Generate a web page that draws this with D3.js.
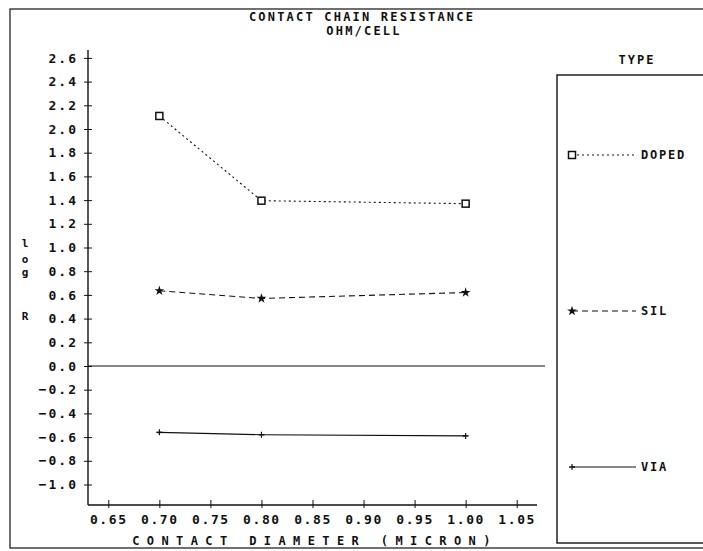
<!DOCTYPE html>
<html>
<head>
<meta charset="utf-8">
<script src="https://cdn.jsdelivr.net/npm/d3@7"></script>
<style>
  body { margin: 0; background: #fff; }
  svg text { font-family: "DejaVu Sans Mono", monospace; font-weight: bold; fill: #111; }
</style>
</head>
<body>
<svg id="chart" width="703" height="551"></svg>
<script>
// data
var diameters = [0.70, 0.80, 1.00];
var dopedVals = [2.11, 1.395, 1.37];
var silVals = [0.635, 0.57, 0.62];
var viaVals = [-0.56, -0.58, -0.59];
var seriesNames = ["DOPED", "SIL", "VIA"];
var xTicks = [0.65, 0.70, 0.75, 0.80, 0.85, 0.90, 0.95, 1.00, 1.05];
var yTicks = [2.6, 2.4, 2.2, 2.0, 1.8, 1.6, 1.4, 1.2, 1.0, 0.8, 0.6, 0.4, 0.2, 0.0,
  -0.2, -0.4, -0.6, -0.8, -1.0];

var svg = d3.select("#chart");
var ink = "#111";

var x = d3.scaleLinear().domain([0.65, 1.05]).range([108.3, 516.7]);
var y = d3.scaleLinear().domain([0, -1.0]).range([366, 484.5]);
var axisLeft = 88, axisBottom = 505;

// outer frame
svg.append("rect").attr("x", 10).attr("y", 9).attr("width", 700).attr("height", 539)
  .attr("fill", "none").attr("stroke", ink).attr("stroke-width", 1.2);

// titles
svg.append("text").attr("x", 362).attr("y", 21).attr("text-anchor", "middle")
  .style("font-size", "12px").style("letter-spacing", "2.2px").text("CONTACT CHAIN RESISTANCE");
svg.append("text").attr("x", 364).attr("y", 35).attr("text-anchor", "middle")
  .style("font-size", "12px").style("letter-spacing", "2.2px").text("OHM/CELL");

// y axis
var yAxis = d3.axisLeft(y).tickValues(yTicks).tickSize(0).tickPadding(10)
  .tickFormat(d3.format(".1f"));
var gy = svg.append("g").attr("transform", "translate(" + axisLeft + ",0)").call(yAxis);
gy.select(".domain").remove();
gy.selectAll("text").style("font-size", "13px").style("letter-spacing", "2px")
  .style("font-family", "'DejaVu Sans Mono', monospace").style("font-weight", "bold");
gy.selectAll(".tick").append("line").attr("x1", -4).attr("x2", 4).attr("stroke", ink);
svg.append("line").attr("x1", axisLeft).attr("x2", axisLeft).attr("y1", 50).attr("y2", axisBottom)
  .attr("stroke", ink).attr("stroke-width", 1.4);

// x axis
var xAxis = d3.axisBottom(x).tickValues(xTicks).tickSize(0).tickPadding(10)
  .tickFormat(d3.format(".2f"));
var gx = svg.append("g").attr("transform", "translate(0," + axisBottom + ")").call(xAxis);
gx.select(".domain").remove();
gx.selectAll("text").style("font-size", "13px").style("letter-spacing", "1.6px")
  .style("font-family", "'DejaVu Sans Mono', monospace").style("font-weight", "bold");
gx.selectAll(".tick").append("line").attr("y1", -5).attr("y2", 3).attr("stroke", ink);
svg.append("line").attr("x1", axisLeft).attr("x2", 537).attr("y1", axisBottom).attr("y2", axisBottom)
  .attr("stroke", ink).attr("stroke-width", 1.4);

// zero line
svg.append("line").attr("x1", axisLeft).attr("x2", 545).attr("y1", y(0)).attr("y2", y(0))
  .attr("stroke", ink).attr("stroke-width", 1.2);

// axis titles
svg.append("text").attr("x", 315).attr("y", 545).attr("text-anchor", "middle")
  .style("font-size", "12px").style("letter-spacing", "7.4px")
  .text("CONTACT DIAMETER (MICRON)");
var yLab = [["l", 247], ["o", 263], ["g", 276], ["R", 320]];
yLab.forEach(function (d) {
  svg.append("text").attr("x", 25).attr("y", d[1]).attr("text-anchor", "middle")
    .style("font-size", "11px").text(d[0]);
});

// series
var series = [
  { name: "DOPED", values: dopedVals, dash: "2,3", marker: "square" },
  { name: "SIL", values: silVals, dash: "6,4", marker: "star" },
  { name: "VIA", values: viaVals, dash: null, marker: "plus" }
];
var line = d3.line().x(function (d) { return x(d[0]); }).y(function (d) { return y(d[1]); });

function drawMarker(g, type, cx, cy) {
  if (type === "square") {
    g.append("rect").attr("x", cx - 3.5).attr("y", cy - 3.5).attr("width", 7).attr("height", 7)
      .attr("fill", "#fff").attr("stroke", ink).attr("stroke-width", 1.5);
  } else if (type === "star") {
    g.append("path").attr("d", d3.symbol().type(d3.symbolStar).size(30)())
      .attr("transform", "translate(" + cx + "," + cy + ")").attr("fill", ink);
  } else {
    g.append("line").attr("x1", cx - 3).attr("x2", cx + 3).attr("y1", cy).attr("y2", cy)
      .attr("stroke", ink).attr("stroke-width", 1.5);
    g.append("line").attr("x1", cx).attr("x2", cx).attr("y1", cy - 3).attr("y2", cy + 3)
      .attr("stroke", ink).attr("stroke-width", 1.2);
  }
}

var plot = svg.append("g");
series.forEach(function (s) {
  var pts = diameters.map(function (d, i) { return [d, s.values[i]]; });
  plot.append("path").attr("d", line(pts)).attr("fill", "none").attr("stroke", ink)
    .attr("stroke-width", 1.1).attr("stroke-dasharray", s.dash);
  pts.forEach(function (p) { drawMarker(plot, s.marker, x(p[0]), y(p[1])); });
});

// legend
svg.append("text").attr("x", 637).attr("y", 64).attr("text-anchor", "middle")
  .style("font-size", "12px").style("letter-spacing", "2px").text("TYPE");
svg.append("rect").attr("x", 557).attr("y", 75).attr("width", 160).attr("height", 468)
  .attr("fill", "none").attr("stroke", ink).attr("stroke-width", 1.4);
var legendY = [155, 311, 467];
series.forEach(function (s, i) {
  var ly = legendY[i];
  svg.append("line").attr("x1", 572).attr("x2", 636).attr("y1", ly).attr("y2", ly)
    .attr("stroke", ink).attr("stroke-width", 1.1).attr("stroke-dasharray", s.dash);
  drawMarker(svg, s.marker, 572, ly);
  svg.append("text").attr("x", 641).attr("y", ly + 4).style("font-size", "12px")
    .style("letter-spacing", "1.8px").text(s.name);
});
</script>
</body>
</html>
